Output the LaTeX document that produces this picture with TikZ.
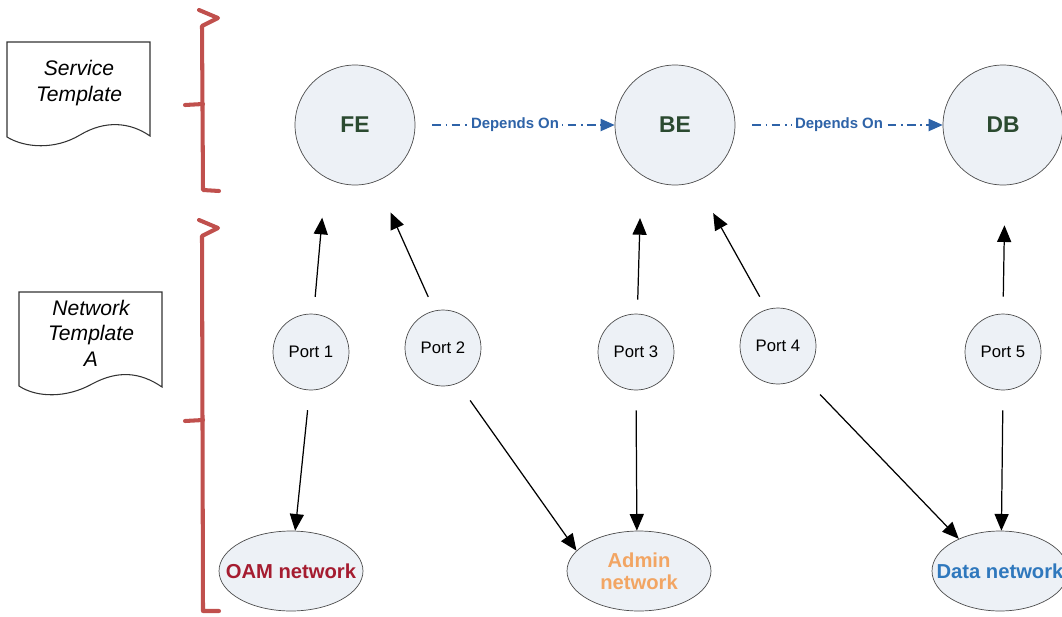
\documentclass[tikz,border=0pt]{standalone}
\usepackage{fontspec}
\setmainfont{Liberation Sans}
\usepackage{xcolor}
\usepackage{tikz}
\usetikzlibrary{shapes,arrows.meta,positioning,calc}

\definecolor{nodefill}{HTML}{EDF1F6}
\definecolor{bracered}{HTML}{C0504D}
\definecolor{depblue}{HTML}{2E63A8}
\definecolor{svcgreen}{HTML}{2B4A30}
\definecolor{oamred}{HTML}{A51C30}
\definecolor{adminorange}{HTML}{F2A563}
\definecolor{datablue}{HTML}{2F78BD}

\begin{document}
\begin{tikzpicture}[x=0.02cm, y=-0.02cm,
    svc/.style={circle, draw=black!70, fill=nodefill, minimum size=2.4cm, font=\fontsize{13}{15}\selectfont\bfseries, text=svcgreen},
    port/.style={circle, draw=black!70, fill=nodefill, minimum size=1.52cm, font=\fontsize{9.5}{11}\selectfont},
    net/.style={ellipse, draw=black!70, fill=nodefill, minimum width=2.88cm, minimum height=1.6cm, inner xsep=-10pt, inner ysep=0pt, align=center, font=\fontsize{11.5}{12.5}\selectfont\bfseries},
    arr/.style={-{Triangle[length=9.5pt,width=8pt]}, line width=0.7pt},
    dep/.style={-{Triangle[length=8pt,width=7pt]}, depblue, line width=0.7pt, dash pattern=on 5pt off 2.5pt on 1pt off 2.5pt},
    deplabel/.style={fill=white, inner sep=1.5pt, text=depblue, font=\fontsize{8.5}{10}\selectfont\bfseries},
    brace/.style={bracered, line width=2.3pt, line cap=round, line join=round},
    doc/.style={draw=black!80, line width=0.6pt, fill=white}]
    \useasboundingbox (0,0) rectangle (1062,616);

    % Documents
    \draw[doc] (7,42) -- (150,42) -- (150,136) .. controls (130,122) and (105,120) .. (80,135) .. controls (55,150) and (25,148) .. (7,137) -- cycle;
    \node[font=\fontsize{12}{14.5}\selectfont\itshape, align=center] (svcdoc) at (79,83) {Service\\Template};
    \draw[doc] (19,292) -- (162,292) -- (162,387) .. controls (140,372) and (118,370) .. (92,384) .. controls (67,398) and (37,398) .. (19,386) -- cycle;
    \node[font=\fontsize{12}{14.5}\selectfont\itshape, align=center] (netdoc) at (91,333) {Network\\Template\\A};

    % Braces
    \draw[brace] (199,10) -- (218,18) -- (202,26) -- (203,190) -- (219,191);
    \draw[brace] (185,105) -- (203,104);
    \draw[brace] (199,220) -- (218,228) -- (202,236) -- (203,611) -- (219,611);
    \draw[brace] (185,421) -- (203,420);

    % Service template
    \node[svc] (fe) at (355,125) {FE};
    \node[svc] (be) at (675,125) {BE};
    \node[svc] (db) at (1003,125) {DB};
    \draw[dep, shorten <=0.34cm] (fe) -- node[deplabel] (dep1) {Depends On} (be);
    \draw[dep, shorten <=0.34cm] (be) -- node[deplabel] (dep2) {Depends On} (db);

    % Ports
    \node[port] (p1) at (311,352) {Port 1};
    \node[port] (p2) at (443,348) {Port 2};
    \node[port] (p3) at (636,352) {Port 3};
    \node[port] (p4) at (778,346) {Port 4};
    \node[port] (p5) at (1003,352) {Port 5};

    % Networks
    \node[net, text=oamred] (oam) at (291,571) {OAM network};
    \node[net, text=adminorange] (admin) at (639,571) {Admin\\network};
    \node[net, text=datablue, minimum width=2.72cm] (data) at (1000,571) {Data network};

    % Port to service
    \draw[arr, shorten <=0.34cm, shorten >=0.8cm] (p1.86) -- (fe.241);
    \draw[arr, shorten <=0.3cm, shorten >=0.68cm] (p2.103) -- (fe.291);
    \draw[arr, shorten <=0.28cm, shorten >=0.86cm] (p3.88) -- (be.236);
    \draw[arr, shorten <=0.29cm, shorten >=0.72cm] (p4.107) -- (be.290);
    \draw[arr, shorten <=0.34cm, shorten >=0.8cm] (p5.90) -- (db.272);

    % Port to network
    \draw[arr, shorten <=0.4cm] (p1.268) -- (oam);
    \draw[arr, shorten <=0.42cm] (p2.293) -- (admin.162);
    \draw[arr, shorten <=0.4cm] (p3.270) -- (admin.93);
    \draw[arr, shorten <=0.52cm] (p4.309) -- (data.142);
    \draw[arr, shorten <=0.4cm] (p5.270) -- (data.88);
\end{tikzpicture}
\end{document}
